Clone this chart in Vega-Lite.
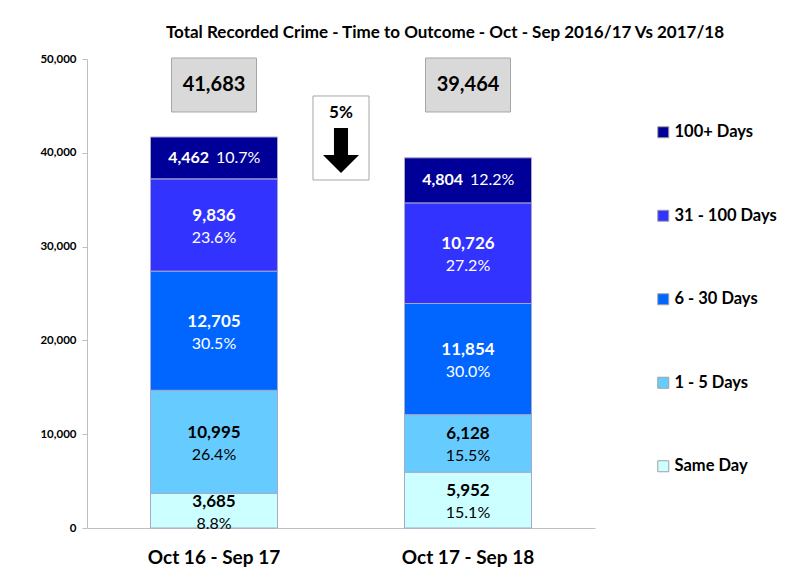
{
  "$schema": "https://vega.github.io/schema/vega-lite/v6.json",
  "width": 508,
  "height": 469,
  "autosize": "none",
  "padding": {"left": 87, "top": 59, "right": 197, "bottom": 43},
  "background": "white",
  "config": {
    "view": {"stroke": null},
    "font": "Lato",
    "axis": {"labelFont": "Lato", "labelColor": "black", "labelFontWeight": "bold"},
    "axisY": {"labelExpr": "format(datum.value, ',')"}
  },
  "title": {
    "text": "Total Recorded Crime - Time to Outcome - Oct - Sep 2016/17 Vs 2017/18",
    "font": "Lato",
    "fontSize": 17,
    "fontWeight": "bold",
    "color": "black",
    "anchor": "middle",
    "dx": 104,
    "offset": 11
  },
  "datasets": {
    "segments": [
      {"period": "Oct 16 - Sep 17", "category": "Same Day", "value": 3685, "pct": 0.088},
      {"period": "Oct 16 - Sep 17", "category": "1 - 5 Days", "value": 10995, "pct": 0.264},
      {"period": "Oct 16 - Sep 17", "category": "6 - 30 Days", "value": 12705, "pct": 0.305},
      {"period": "Oct 16 - Sep 17", "category": "31 - 100 Days", "value": 9836, "pct": 0.236},
      {"period": "Oct 16 - Sep 17", "category": "100+ Days", "value": 4462, "pct": 0.107},
      {"period": "Oct 17 - Sep 18", "category": "Same Day", "value": 5952, "pct": 0.151},
      {"period": "Oct 17 - Sep 18", "category": "1 - 5 Days", "value": 6128, "pct": 0.155},
      {"period": "Oct 17 - Sep 18", "category": "6 - 30 Days", "value": 11854, "pct": 0.300},
      {"period": "Oct 17 - Sep 18", "category": "31 - 100 Days", "value": 10726, "pct": 0.272},
      {"period": "Oct 17 - Sep 18", "category": "100+ Days", "value": 4804, "pct": 0.122}
    ],
    "totals": [
      {"period": "Oct 16 - Sep 17", "total": 41683},
      {"period": "Oct 17 - Sep 18", "total": 39464}
    ],
    "change": [
      {"period": "Oct 16 - Sep 17", "change": "5%"}
    ]
  },
  "encoding": {
    "x": {
      "field": "period",
      "type": "nominal",
      "sort": ["Oct 16 - Sep 17", "Oct 17 - Sep 18"],
      "scale": {"paddingInner": 0.5, "paddingOuter": 0.25},
      "axis": {
        "title": null,
        "labelAngle": 0,
        "ticks": false,
        "domainColor": "#bfbfbf",
        "labelFontSize": 19,
        "labelPadding": 20
      }
    }
  },
  "layer": [
    {
      "data": {"name": "segments"},
      "transform": [
        {"calculate": "indexof(['Same Day','1 - 5 Days','6 - 30 Days','31 - 100 Days','100+ Days'], datum.category)", "as": "rank"},
        {"stack": "value", "groupby": ["period"], "sort": [{"field": "rank", "order": "ascending"}], "as": ["y0", "y1"]},
        {"calculate": "(datum.y0 + datum.y1) / 2", "as": "mid"}
      ],
      "layer": [
        {
          "mark": {"type": "bar", "stroke": "#a8a8c8", "strokeWidth": 1},
          "encoding": {
            "y": {
              "field": "y0",
              "type": "quantitative",
              "scale": {"domain": [0, 50000], "nice": false},
              "axis": {
                "title": null,
                "values": [0, 10000, 20000, 30000, 40000, 50000],
                "format": ",",
                "grid": false,
                "domainColor": "#bfbfbf",
                "tickColor": "#bfbfbf",
                "tickSize": 5,
                "labelFontSize": 11.5,
                "labelPadding": 6
              }
            },
            "y2": {"field": "y1"},
            "color": {
              "field": "category",
              "type": "nominal",
              "scale": {
                "domain": ["100+ Days", "31 - 100 Days", "6 - 30 Days", "1 - 5 Days", "Same Day"],
                "range": ["#000099", "#3333FF", "#0066FF", "#66CCFF", "#CCFFFF"]
              },
              "legend": {
                "title": null,
                "orient": "none",
                "legendX": 568,
                "legendY": 65,
                "symbolType": "square",
                "symbolSize": 121,
                "symbolStrokeColor": "#a0a0a0",
                "symbolStrokeWidth": 1,
                "symbolOpacity": 1,
                "labelFont": "Lato",
                "labelFontSize": 16.5,
                "labelFontWeight": "bold",
                "labelColor": "black",
                "labelOffset": 3,
                "rowPadding": 66.5
              }
            }
          }
        },
        {
          "transform": [{"filter": "datum.category != '100+ Days'"}],
          "mark": {"type": "text", "fontSize": 17, "fontWeight": "bold", "dy": -9, "baseline": "middle"},
          "encoding": {
            "y": {"field": "mid", "type": "quantitative"},
            "text": {"field": "value", "type": "quantitative", "format": ","},
            "color": {"condition": {"test": "datum.category == 'Same Day' || datum.category == '1 - 5 Days'", "value": "black"}, "value": "white"}
          }
        },
        {
          "transform": [{"filter": "datum.category != '100+ Days'"}],
          "mark": {"type": "text", "fontSize": 16, "dy": 13, "baseline": "middle"},
          "encoding": {
            "y": {"field": "mid", "type": "quantitative"},
            "text": {"field": "pct", "type": "quantitative", "format": ".1%"},
            "color": {"condition": {"test": "datum.category == 'Same Day' || datum.category == '1 - 5 Days'", "value": "black"}, "value": "white"}
          }
        },
        {
          "transform": [{"filter": "datum.category == '100+ Days'"}],
          "mark": {"type": "text", "fontSize": 16, "fontWeight": "bold", "align": "right", "dx": -5, "baseline": "middle", "color": "white"},
          "encoding": {
            "y": {"field": "mid", "type": "quantitative"},
            "text": {"field": "value", "type": "quantitative", "format": ","}
          }
        },
        {
          "transform": [{"filter": "datum.category == '100+ Days'"}],
          "mark": {"type": "text", "fontSize": 16, "align": "left", "dx": 2, "baseline": "middle", "color": "white"},
          "encoding": {
            "y": {"field": "mid", "type": "quantitative"},
            "text": {"field": "pct", "type": "quantitative", "format": ".1%"}
          }
        }
      ]
    },
    {
      "data": {"name": "totals"},
      "layer": [
        {
          "mark": {"type": "point", "shape": "M-1,-0.635L1,-0.635L1,0.635L-1,0.635Z", "size": 7225, "filled": true, "fill": "#d9d9d9", "stroke": "#a6a6a6", "strokeWidth": 1, "opacity": 1},
          "encoding": {"y": {"datum": 47228, "type": "quantitative"}}
        },
        {
          "mark": {"type": "text", "fontSize": 20, "fontWeight": "bold", "color": "black", "baseline": "middle"},
          "encoding": {
            "y": {"datum": 47228, "type": "quantitative"},
            "text": {"field": "total", "type": "quantitative", "format": ","}
          }
        }
      ]
    },
    {
      "data": {"name": "change"},
      "layer": [
        {
          "mark": {"type": "point", "shape": "M-0.667,-1L0.667,-1L0.667,1L-0.667,1Z", "size": 7056, "filled": true, "fill": "white", "stroke": "#a6a6a6", "strokeWidth": 1, "opacity": 1},
          "encoding": {
            "x": {"field": "period", "type": "nominal", "bandPosition": 1.5},
            "y": {"datum": 41578, "type": "quantitative"}
          }
        },
        {
          "mark": {"type": "text", "fontSize": 17, "fontWeight": "bold", "color": "black", "baseline": "middle"},
          "encoding": {
            "x": {"field": "period", "type": "nominal", "bandPosition": 1.5},
            "y": {"datum": 44243, "type": "quantitative"},
            "text": {"field": "change", "type": "nominal"}
          }
        },
        {
          "mark": {"type": "point", "shape": "M-0.39,-1.25L0.39,-1.25L0.39,0.25L1,0.25L0,1.25L-1,0.25L-0.39,0.25Z", "size": 1296, "filled": true, "fill": "black", "stroke": null, "opacity": 1},
          "encoding": {
            "x": {"field": "period", "type": "nominal", "bandPosition": 1.5},
            "y": {"datum": 40245, "type": "quantitative"}
          }
        }
      ]
    }
  ]
}
